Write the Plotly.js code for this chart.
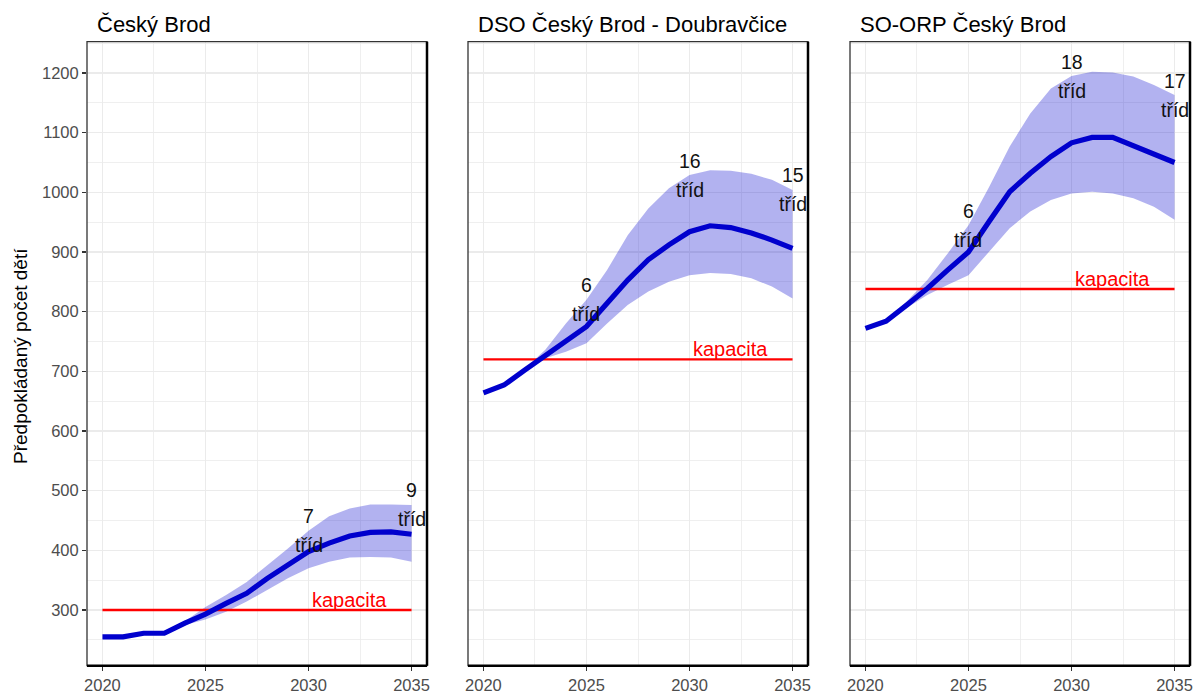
<!DOCTYPE html>
<html>
<head>
<meta charset="utf-8">
<script src="https://cdn.plot.ly/plotly-3.0.1.min.js"></script>
<style>html,body{margin:0;padding:0;background:#fff;}#chart{width:1195px;height:693px;}</style>
</head>
<body>
<div id="chart"></div>
<script>
const years = [2020,2021,2022,2023,2024,2025,2026,2027,2028,2029,2030,2031,2032,2033,2034,2035];

const panelTitles = ["Český Brod", "DSO Český Brod - Doubravčice", "SO-ORP Český Brod"];

const cbMean  = [255,255,261,261,278,293,311,328,353,375,398,412,424,430,431,427];
const cbUpper = [255,255,261,261,281,305,325,347,375,403,433,457,470,477,477,476];
const cbLower = [255,255,261,261,275,284,297,314,334,353,370,381,388,389,388,381];

const dsoMean  = [664,677,702,727,750,775,814,853,887,912,934,944,941,932,920,906];
const dsoUpper = [664,677,704,736,780,820,870,928,973,1007,1029,1037,1036,1031,1021,1004];
const dsoLower = [664,677,700,722,733,747,780,811,834,850,861,865,863,856,842,822];

const orpMean  = [772,784,811,839,870,900,951,1001,1032,1060,1083,1092,1092,1078,1065,1050];
const orpUpper = [772,784,817,853,898,945,1009,1077,1132,1174,1195,1202,1201,1194,1180,1163];
const orpLower = [772,784,806,828,845,861,900,940,968,987,998,1001,998,990,976,954];

const capacities = [300, 720, 838];
const capacityLabel = "kapacita";
const capacityLabelYear = 2032;

const cbLabelYears = [2030, 2035];
const cbLabelClasses = ["7", "9"];
const dsoLabelYears = [2025, 2030, 2035];
const dsoLabelClasses = ["6", "16", "15"];
const orpLabelYears = [2025, 2030, 2035];
const orpLabelClasses = ["6", "18", "17"];
const classWord = "tříd";

const yTitle = "Předpokládaný počet dětí";
const xTickVals = [2020, 2025, 2030, 2035];
const yTickVals = [300,400,500,600,700,800,900,1000,1100,1200];

const panels = [
  {mean: cbMean, upper: cbUpper, lower: cbLower, labYears: cbLabelYears, labText: cbLabelClasses},
  {mean: dsoMean, upper: dsoUpper, lower: dsoLower, labYears: dsoLabelYears, labText: dsoLabelClasses},
  {mean: orpMean, upper: orpUpper, lower: orpLower, labYears: orpLabelYears, labText: orpLabelClasses}
];

const W = 1195, H = 693;
const pxDomains = [[87, 427], [468, 808], [850, 1190]];
const yDom = [1 - 665.7 / H, 1 - 41.7 / H];
const FONT = "Liberation Sans, Arial, sans-serif";

const traces = [];
const shapes = [];
const annotations = [];
const layout = {
  width: W, height: H,
  margin: {l: 0, r: 0, t: 0, b: 0},
  paper_bgcolor: "#fff", plot_bgcolor: "#fff",
  showlegend: false,
  font: {family: FONT}
};

panels.forEach((p, i) => {
  const n = i === 0 ? "" : String(i + 1);
  const xa = "x" + n, ya = "y" + n;
  const dom = [pxDomains[i][0] / W, pxDomains[i][1] / W];

  layout["xaxis" + n] = {
    domain: dom, anchor: ya, range: [2019.25, 2035.75],
    tickvals: xTickVals, ticks: "outside", ticklen: 4, tickwidth: 1.2, tickcolor: "#333",
    tickfont: {family: FONT, size: 16.5, color: "#4D4D4D"},
    showgrid: true, gridcolor: "#EBEBEB", gridwidth: 1.3,
    minor: {tick0: 2020, dtick: 2.5, showgrid: true, gridcolor: "#EBEBEB", gridwidth: 0.8},
    zeroline: false, showline: false, fixedrange: true
  };
  layout["yaxis" + n] = {
    domain: yDom, anchor: xa, range: [206.6, 1252.5],
    tickvals: yTickVals, ticks: i === 0 ? "outside" : "", ticklen: 4, tickwidth: 1.2, tickcolor: "#333",
    showticklabels: i === 0,
    tickfont: {family: FONT, size: 16.5, color: "#4D4D4D"},
    showgrid: true, gridcolor: "#EBEBEB", gridwidth: 1.3,
    minor: {tick0: 250, dtick: 100, showgrid: true, gridcolor: "#EBEBEB", gridwidth: 0.8},
    zeroline: false, showline: false, fixedrange: true
  };
  if (i > 0) layout["yaxis" + n].matches = "y";

  // uncertainty band
  traces.push({
    type: "scatter", mode: "lines", xaxis: xa, yaxis: ya,
    x: years.concat(years.slice().reverse()),
    y: p.upper.concat(p.lower.slice().reverse()),
    fill: "toself", fillcolor: "rgba(0,0,205,0.3)",
    line: {width: 0, color: "rgba(0,0,0,0)"}, hoverinfo: "skip"
  });
  // capacity line
  traces.push({
    type: "scatter", mode: "lines", xaxis: xa, yaxis: ya,
    x: [years[0], years[years.length - 1]],
    y: [capacities[i], capacities[i]],
    line: {color: "#FF0000", width: 2.4}
  });
  // mean line
  traces.push({
    type: "scatter", mode: "lines", xaxis: xa, yaxis: ya,
    x: years, y: p.mean,
    line: {color: "#0000CD", width: 5.2}
  });

  // class labels (number above, word below)
  p.labYears.forEach((yr, k) => {
    const idx = years.indexOf(yr);
    annotations.push({
      xref: xa, yref: ya, x: yr, y: p.upper[idx],
      text: p.labText[k], showarrow: false,
      xanchor: "center", yanchor: "middle", yshift: 14.5,
      font: {family: FONT, size: 19.5, color: "#111"}
    });
    annotations.push({
      xref: xa, yref: ya, x: yr, y: p.upper[idx],
      text: classWord, showarrow: false,
      xanchor: "center", yanchor: "middle", yshift: -14.5,
      font: {family: FONT, size: 19.5, color: "#111"}
    });
  });
  // capacity label
  annotations.push({
    xref: xa, yref: ya, x: capacityLabelYear, y: capacities[i],
    text: capacityLabel, showarrow: false, xanchor: "center", yanchor: "bottom",
    yshift: -3,
    font: {family: FONT, size: 20, color: "#FF0000"}
  });
  // panel title
  annotations.push({
    xref: "paper", yref: "paper", x: (pxDomains[i][0] + 8) / W, y: 1 - 25 / H,
    text: panelTitles[i], showarrow: false, xanchor: "left", yanchor: "middle",
    font: {family: FONT, size: 22, color: "#000"}
  });

  // panel border
  shapes.push({type: "rect", xref: xa + " domain", yref: ya + " domain", x0: 0, x1: 1, y0: 0, y1: 1,
    line: {color: "#333", width: 1.3}, fillcolor: "rgba(0,0,0,0)", layer: "above"});
  shapes.push({type: "line", xref: xa + " domain", yref: ya + " domain", x0: 1, x1: 1, y0: 0, y1: 1,
    line: {color: "#000", width: 2.5}, layer: "above"});
  shapes.push({type: "line", xref: xa + " domain", yref: ya + " domain", x0: 0, x1: 1, y0: 0, y1: 0,
    line: {color: "#000", width: 2.5}, layer: "above"});
});

annotations.push({
  xref: "paper", yref: "paper", x: 20 / W, y: 1 - 356 / H,
  text: yTitle, showarrow: false, textangle: -90, xanchor: "center", yanchor: "middle",
  font: {family: FONT, size: 19, color: "#000"}
});

layout.shapes = shapes;
layout.annotations = annotations;

Plotly.newPlot("chart", traces, layout, {displayModeBar: false, staticPlot: true});
</script>
</body>
</html>
